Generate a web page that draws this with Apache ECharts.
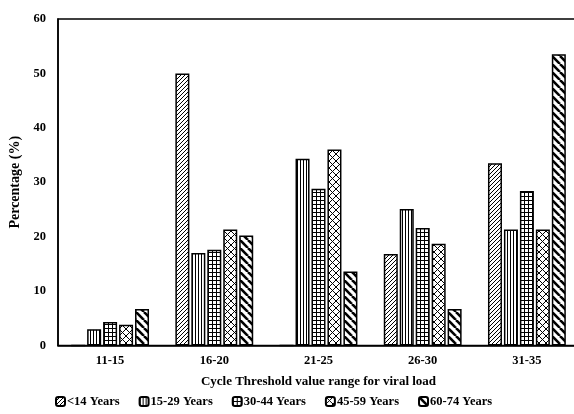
<!DOCTYPE html>
<html>
<head>
<meta charset="utf-8">
<script src="https://cdn.jsdelivr.net/npm/echarts@6/dist/echarts.min.js"></script>
<style>
  html, body { margin: 0; padding: 0; background: #fff; }
  #main { width: 574px; height: 414px; }
</style>
</head>
<body>
<div id="main"></div>
<script>
// age groups by Ct range
var categories = ['11-15', '16-20', '21-25', '26-30', '31-35']
var ageGroups = ['<14 Years', '15-29 Years', '30-44 Years', '45-59 Years', '60-74 Years']
var under14 = [0, 50, 0, 16.8, 33.5]
var age15to29 = [3.0, 17.0, 34.3, 25.1, 21.3]
var age30to44 = [4.3, 17.6, 28.8, 21.6, 28.4]
var age45to59 = [3.8, 21.3, 36.0, 18.7, 21.3]
var age60to74 = [6.7, 20.2, 13.6, 6.7, 53.5]
var yTicks = [0, 10, 20, 30, 40, 50, 60]

var font = 'Liberation Serif'

function tile(w, h, draw) {
  var c = document.createElement('canvas')
  c.width = w
  c.height = h
  var g = c.getContext('2d')
  g.fillStyle = '#fff'
  g.fillRect(0, 0, w, h)
  g.strokeStyle = '#000'
  g.fillStyle = '#000'
  draw(g, w, h)
  return { image: c, repeat: 'repeat' }
}

function line(g, x1, y1, x2, y2) {
  g.beginPath()
  g.moveTo(x1, y1)
  g.lineTo(x2, y2)
  g.stroke()
}

var patterns = [
  // fine hatch ////
  tile(4, 4, function (g) {
    g.lineWidth = 1
    line(g, -1, 5, 5, -1)
    line(g, -1, 1, 1, -1)
    line(g, 3, 5, 5, 3)
  }),
  // vertical stripes
  tile(3, 4, function (g) {
    g.fillRect(0, 0, 1, 4)
  }),
  // grid
  tile(4, 4, function (g) {
    g.fillRect(0, 0, 4, 1)
    g.fillRect(0, 0, 1, 4)
  }),
  // crosses
  tile(7, 7, function (g) {
    g.lineWidth = 1
    line(g, 0, 0, 7, 7)
    line(g, 0, 7, 7, 0)
  }),
  // wide \\\\
  tile(8, 8, function (g) {
    g.lineWidth = 2.6
    for (var k = -16; k <= 16; k += 8) line(g, k, 0, k + 8, 8)
  })
]

var dataSets = [under14, age15to29, age30to44, age45to59, age60to74]

var chart = echarts.init(document.getElementById('main'))

chart.setOption({
  animation: false,
  backgroundColor: '#fff',
  grid: {
    left: 58,
    width: 521,
    top: 19,
    bottom: 68.5,
    outerBoundsMode: 'none',
    show: true,
    borderColor: '#000',
    borderWidth: 1.5
  },
  legend: {
    data: ageGroups,
    bottom: 1,
    left: 50,
    itemWidth: 9,
    itemHeight: 9,
    itemGap: 19,
    textStyle: { fontFamily: font, fontWeight: 'bold', fontSize: 12.5, color: '#000', padding: [0, 0, 0, -3] }
  },
  xAxis: {
    type: 'category',
    data: categories,
    name: 'Cycle Threshold value range for viral load',
    nameLocation: 'middle',
    nameGap: 30,
    nameTextStyle: { fontFamily: font, fontWeight: 'bold', fontSize: 13, color: '#000' },
    axisLine: { lineStyle: { color: '#000', width: 1.5 } },
    axisTick: { show: false },
    axisLabel: { fontFamily: font, fontWeight: 'bold', fontSize: 12.5, color: '#000', margin: 9 }
  },
  yAxis: {
    type: 'value',
    min: yTicks[0],
    max: yTicks[yTicks.length - 1],
    interval: 10,
    name: 'Percentage (%)',
    nameLocation: 'middle',
    nameGap: 35,
    nameTextStyle: { fontFamily: font, fontWeight: 'bold', fontSize: 14, color: '#000' },
    axisLine: { show: true, lineStyle: { color: '#000', width: 1.5 } },
    axisTick: { show: false },
    splitLine: { show: false },
    axisLabel: { fontFamily: font, fontWeight: 'bold', fontSize: 12.5, color: '#000', margin: 12 }
  },
  series: ageGroups.map(function (name, i) {
    return {
      name: name,
      type: 'bar',
      data: dataSets[i],
      barWidth: 14,
      barGap: '14%',
      itemStyle: {
        color: patterns[i],
        borderColor: '#000',
        borderWidth: 1.5
      }
    }
  })
})
</script>
</body>
</html>
